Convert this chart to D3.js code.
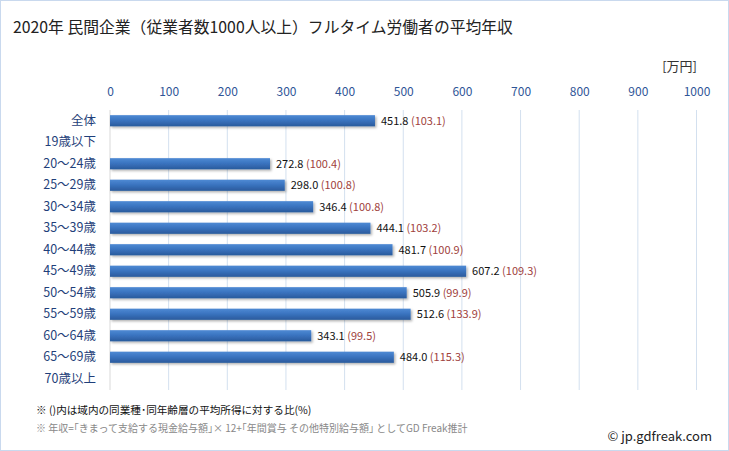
<!DOCTYPE html>
<html><head><meta charset="utf-8">
<script src="https://cdn.jsdelivr.net/npm/d3@7"></script>
<style>body{margin:0;background:#fff;}svg{display:block;font-family:"Noto Sans CJK JP","Noto Sans",sans-serif;}</style>
</head><body>
<svg id="c" width="729" height="451"></svg>
<script>
const categories = ["全体","19歳以下","20～24歳","25～29歳","30～34歳","35～39歳","40～44歳","45～49歳","50～54歳","55～59歳","60～64歳","65～69歳","70歳以上"];
const values = [451.8, null, 272.8, 298.0, 346.4, 444.1, 481.7, 607.2, 505.9, 512.6, 343.1, 484.0, null];
const ratios = [103.1, null, 100.4, 100.8, 100.8, 103.2, 100.9, 109.3, 99.9, 133.9, 99.5, 115.3, null];
const xTicks = [0,100,200,300,400,500,600,700,800,900,1000];

const svg = d3.select("#c");
svg.append("rect").attr("x",0.5).attr("y",0.5).attr("width",728).attr("height",450)
  .attr("fill","#fff").attr("stroke","#c9d9ee");

const defs = svg.append("defs");
const g1 = defs.append("linearGradient").attr("id","bg").attr("x1",0).attr("y1",0).attr("x2",0).attr("y2",1);
g1.append("stop").attr("offset","0%").attr("stop-color","#4f8ad4");
g1.append("stop").attr("offset","45%").attr("stop-color","#3a74c0");
g1.append("stop").attr("offset","100%").attr("stop-color","#2a5a9c");
const f = defs.append("filter").attr("id","sh").attr("x","-5%").attr("y","-30%").attr("width","115%").attr("height","190%");
f.append("feDropShadow").attr("dx",1.5).attr("dy",1.5).attr("stdDeviation",1).attr("flood-color","#000").attr("flood-opacity",0.3);

const x = d3.scaleLinear().domain([0,1000]).range([110,696.5]);
const y = d3.scaleBand().domain(categories).range([110,389.5]).paddingInner(0.48).paddingOuter(0.24);

// title
svg.append("text").attr("x",13).attr("y",33).attr("font-size",15.8).attr("fill","#222")
  .text("2020年 民間企業（従業者数1000人以上）フルタイム労働者の平均年収");
svg.append("text").attr("x",697).attr("y",71).attr("text-anchor","end").attr("font-size",13).attr("fill","#333").text("[万円]");

// grid
svg.append("g").selectAll("line").data(xTicks.slice(1)).join("line")
  .attr("x1",d=>x(d)).attr("x2",d=>x(d)).attr("y1",110).attr("y2",390)
  .attr("stroke","#d3e0ef").attr("stroke-width",1);
svg.append("line").attr("x1",x(0)).attr("x2",x(0)).attr("y1",110).attr("y2",390).attr("stroke","#d9d9d9");

// top axis
const ax = svg.append("g").attr("transform","translate(0,96)")
  .call(d3.axisTop(x).tickValues(xTicks).tickSize(0).tickPadding(0).tickFormat(d3.format("d")));
ax.select(".domain").remove();
ax.selectAll("text").attr("font-size",12).attr("fill","#2f5597").attr("font-family","'Noto Sans CJK JP','Noto Sans',sans-serif");

// y axis labels
const ay = svg.append("g").attr("transform","translate(96,0)")
  .call(d3.axisLeft(y).tickSize(0).tickPadding(0));
ay.select(".domain").remove();
ay.selectAll("text").attr("font-size",12.5).attr("fill","#1f3f7a").attr("font-family","'Noto Sans CJK JP','Noto Sans',sans-serif");

// bars
const idx = d3.range(categories.length).filter(i=>values[i]!=null);
svg.append("g").selectAll("rect").data(idx).join("rect")
  .attr("x",x(0)).attr("y",i=>y(categories[i])).attr("width",i=>x(values[i])-x(0))
  .attr("height",y.bandwidth()).attr("fill","url(#bg)").attr("filter","url(#sh)");

const lab = svg.append("g").selectAll("text").data(idx).join("text")
  .attr("x",i=>x(values[i])+6).attr("y",i=>y(categories[i])+y.bandwidth()/2+4)
  .attr("font-size",11).attr("fill","#111");
lab.append("tspan").text(i=>values[i].toFixed(1)+" ");
lab.append("tspan").attr("fill","#a0413c").text(i=>"("+ratios[i].toFixed(1)+")");

// footnotes
svg.append("text").attr("x",36).attr("y",414).attr("font-size",10.6).attr("fill","#111")
  .text("※ ()内は域内の同業種･同年齢層の平均所得に対する比(%)");
svg.append("text").attr("x",36).attr("y",432).attr("font-size",10).attr("fill","#888")
  .text("※ 年収=｢きまって支給する現金給与額｣× 12+｢年間賞与 その他特別給与額｣ としてGD Freak推計");
svg.append("text").attr("x",712).attr("y",441).attr("text-anchor","end").attr("font-size",13).attr("fill","#222")
  .text("© jp.gdfreak.com");
</script>
</body></html>
